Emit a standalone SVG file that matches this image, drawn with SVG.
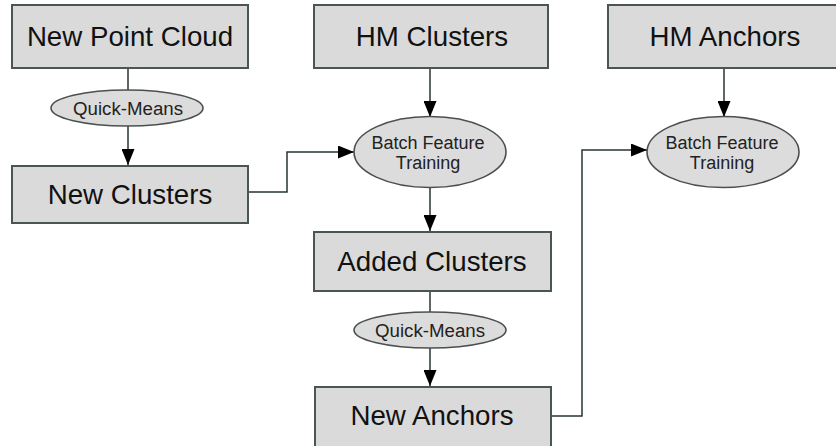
<svg xmlns="http://www.w3.org/2000/svg" width="836" height="446" viewBox="0 0 836 446">
<defs>
<marker id="ah" markerWidth="16" markerHeight="13" refX="16" refY="6.5" orient="auto" markerUnits="userSpaceOnUse"><path d="M0,0 L16,6.5 L0,13 Z" fill="#000"/></marker>
<style>
.box{fill:#dadada;stroke:#4a5656;stroke-width:2}
.ell{fill:#dcdcdc;stroke:#4a5050;stroke-width:1.6}
.big{font-family:"Liberation Sans",Arial,sans-serif;font-size:27.7px;fill:#111;text-anchor:middle}
.sm{font-family:"Liberation Sans",Arial,sans-serif;font-size:18px;fill:#222;text-anchor:middle}
.ln{fill:none;stroke:#2a3333;stroke-width:1.5}
.ar{fill:none;stroke:#2a3333;stroke-width:1.5;marker-end:url(#ah)}
</style>
</defs>
<rect width="836" height="446" fill="#fff"/>
<g id="connectors">
<line class="ln" x1="128" y1="68" x2="128" y2="90"/>
<line class="ar" x1="128" y1="126" x2="128" y2="165"/>
<line class="ar" x1="430" y1="68" x2="430" y2="117"/>
<polyline class="ar" points="248,192 287,192 287,152 354,152"/>
<line class="ar" x1="430" y1="188" x2="430" y2="231"/>
<line class="ln" x1="430" y1="291" x2="430" y2="312"/>
<line class="ar" x1="430" y1="348" x2="430" y2="386"/>
<polyline class="ar" points="551,416 582,416 582,150 647,150"/>
<line class="ar" x1="724" y1="68" x2="724" y2="117"/>
</g>
<g id="new-point-cloud"><rect class="box" x="12" y="5" width="236" height="63"/><text class="big" x="130" y="46">New Point Cloud</text></g>
<g id="quick-means-1"><ellipse class="ell" cx="127" cy="108" rx="76" ry="18"/><text class="sm" x="128" y="114.5" textLength="110" lengthAdjust="spacingAndGlyphs">Quick-Means</text></g>
<g id="new-clusters"><rect class="box" x="12" y="166" width="236" height="57"/><text class="big" x="130" y="204">New Clusters</text></g>
<g id="hm-clusters"><rect class="box" x="314" y="5" width="234" height="63"/><text class="big" x="432" y="46">HM Clusters</text></g>
<g id="batch-feature-training-1"><ellipse class="ell" cx="430" cy="152" rx="76" ry="35.5"/><text class="sm" x="428" y="148.5">Batch Feature</text><text class="sm" x="428" y="169">Training</text></g>
<g id="added-clusters"><rect class="box" x="314" y="232" width="237" height="59"/><text class="big" x="432" y="271">Added Clusters</text></g>
<g id="quick-means-2"><ellipse class="ell" cx="430" cy="330" rx="76" ry="18"/><text class="sm" x="430" y="336.5" textLength="110" lengthAdjust="spacingAndGlyphs">Quick-Means</text></g>
<g id="new-anchors"><rect class="box" x="315" y="387" width="236" height="62"/><text class="big" x="432" y="425">New Anchors</text></g>
<g id="hm-anchors"><rect class="box" x="608" y="5" width="232" height="63"/><text class="big" x="725" y="46">HM Anchors</text></g>
<g id="batch-feature-training-2"><ellipse class="ell" cx="723" cy="152" rx="76" ry="35.5"/><text class="sm" x="722" y="148.5">Batch Feature</text><text class="sm" x="722" y="169">Training</text></g>
</svg>
